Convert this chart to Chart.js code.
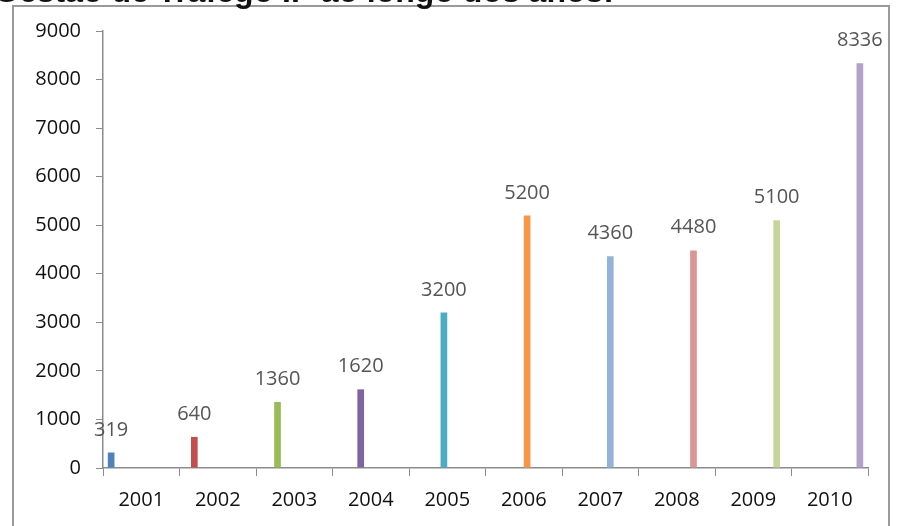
<!DOCTYPE html>
<html>
<head>
<meta charset="utf-8">
<script src="https://cdn.jsdelivr.net/npm/chart.js@4/dist/chart.umd.min.js"></script>
<style>
  html, body { margin: 0; padding: 0; background: #fff; overflow: hidden; }
  #wrap { position: relative; width: 897px; height: 526px; }
  #title { position: absolute; left: -6px; top: -27px; font: bold 32px "Liberation Sans", Arial, sans-serif; color: #111; white-space: nowrap; }
  canvas { position: absolute; left: 0; top: 0; }
</style>
</head>
<body>
<div id="wrap">
  <canvas id="c" width="897" height="526"></canvas>
  <div id="title">Gestão de Tráfego IP ao longo dos anos:</div>
</div>
<script>
const categories = ["2001","2002","2003","2004","2005","2006","2007","2008","2009","2010"];
const values = [319, 640, 1360, 1620, 3200, 5200, 4360, 4480, 5100, 8336];
const colors = ["#4F81BD","#C0504D","#9BBB59","#8064A2","#4BACC6","#F79646","#95B3D7","#D99694","#C3D69B","#B3A2C7"];
const yTicks = [0,1000,2000,3000,4000,5000,6000,7000,8000,9000];

const datasets = categories.map((cat, i) => ({
  label: cat,
  data: categories.map((_, j) => (j === i ? values[i] : null)),
  backgroundColor: colors[i],
  borderWidth: 0,
  categoryPercentage: 0.875,
  barPercentage: 1.0
}));

const framePlugin = {
  id: 'frame',
  beforeDraw(chart) {
    const ctx = chart.ctx;
    ctx.save();
    ctx.strokeStyle = '#9a9a9a';
    ctx.lineWidth = 2;
    ctx.strokeRect(13, 6, 876, 560);
    ctx.restore();
  }
};

const labelPlugin = {
  id: 'vlabels',
  afterDatasetsDraw(chart) {
    const ctx = chart.ctx;
    ctx.save();
    ctx.font = '20px "Open Sans", sans-serif';
    ctx.fillStyle = '#555555';
    ctx.textAlign = 'center';
    ctx.textBaseline = 'alphabetic';
    chart.data.datasets.forEach((ds, i) => {
      const meta = chart.getDatasetMeta(i);
      meta.data.forEach((bar, j) => {
        const v = ds.data[j];
        if (v === null) return;
        ctx.fillText(String(v), bar.x, bar.y - 17);
      });
    });
    ctx.restore();
  }
};

new Chart(document.getElementById('c'), {
  type: 'bar',
  data: { labels: categories, datasets },
  options: {
    responsive: false,
    animation: false,
    layout: { padding: { left: 20, right: 29, top: 31, bottom: 8 } },
    plugins: { legend: { display: false }, tooltip: { enabled: false }, title: { display: false } },
    scales: {
      x: {
        grid: { offset: true, drawOnChartArea: false, drawTicks: true, tickLength: 8, color: '#8c8c8c' },
        border: { color: '#8c8c8c', width: 1.5 },
        ticks: { color: '#111111', font: { family: 'Open Sans', size: 20 }, padding: 12, maxRotation: 0 },
        afterFit(scale) { scale.height = 526 - 468 - 8; }
      },
      y: {
        min: 0, max: 9000,
        afterBuildTicks(scale) { scale.ticks = yTicks.map(v => ({ value: v })); },
        grid: { drawOnChartArea: false, drawTicks: true, tickLength: 7, color: '#8c8c8c' },
        border: { color: '#8c8c8c', width: 1.5 },
        ticks: { color: '#111111', font: { family: 'Open Sans', size: 20 }, padding: 15, callback: (v) => String(v) },
        afterFit(scale) { scale.width = 103 - 20; }
      }
    }
  },
  plugins: [framePlugin, labelPlugin]
});
</script>
</body>
</html>
